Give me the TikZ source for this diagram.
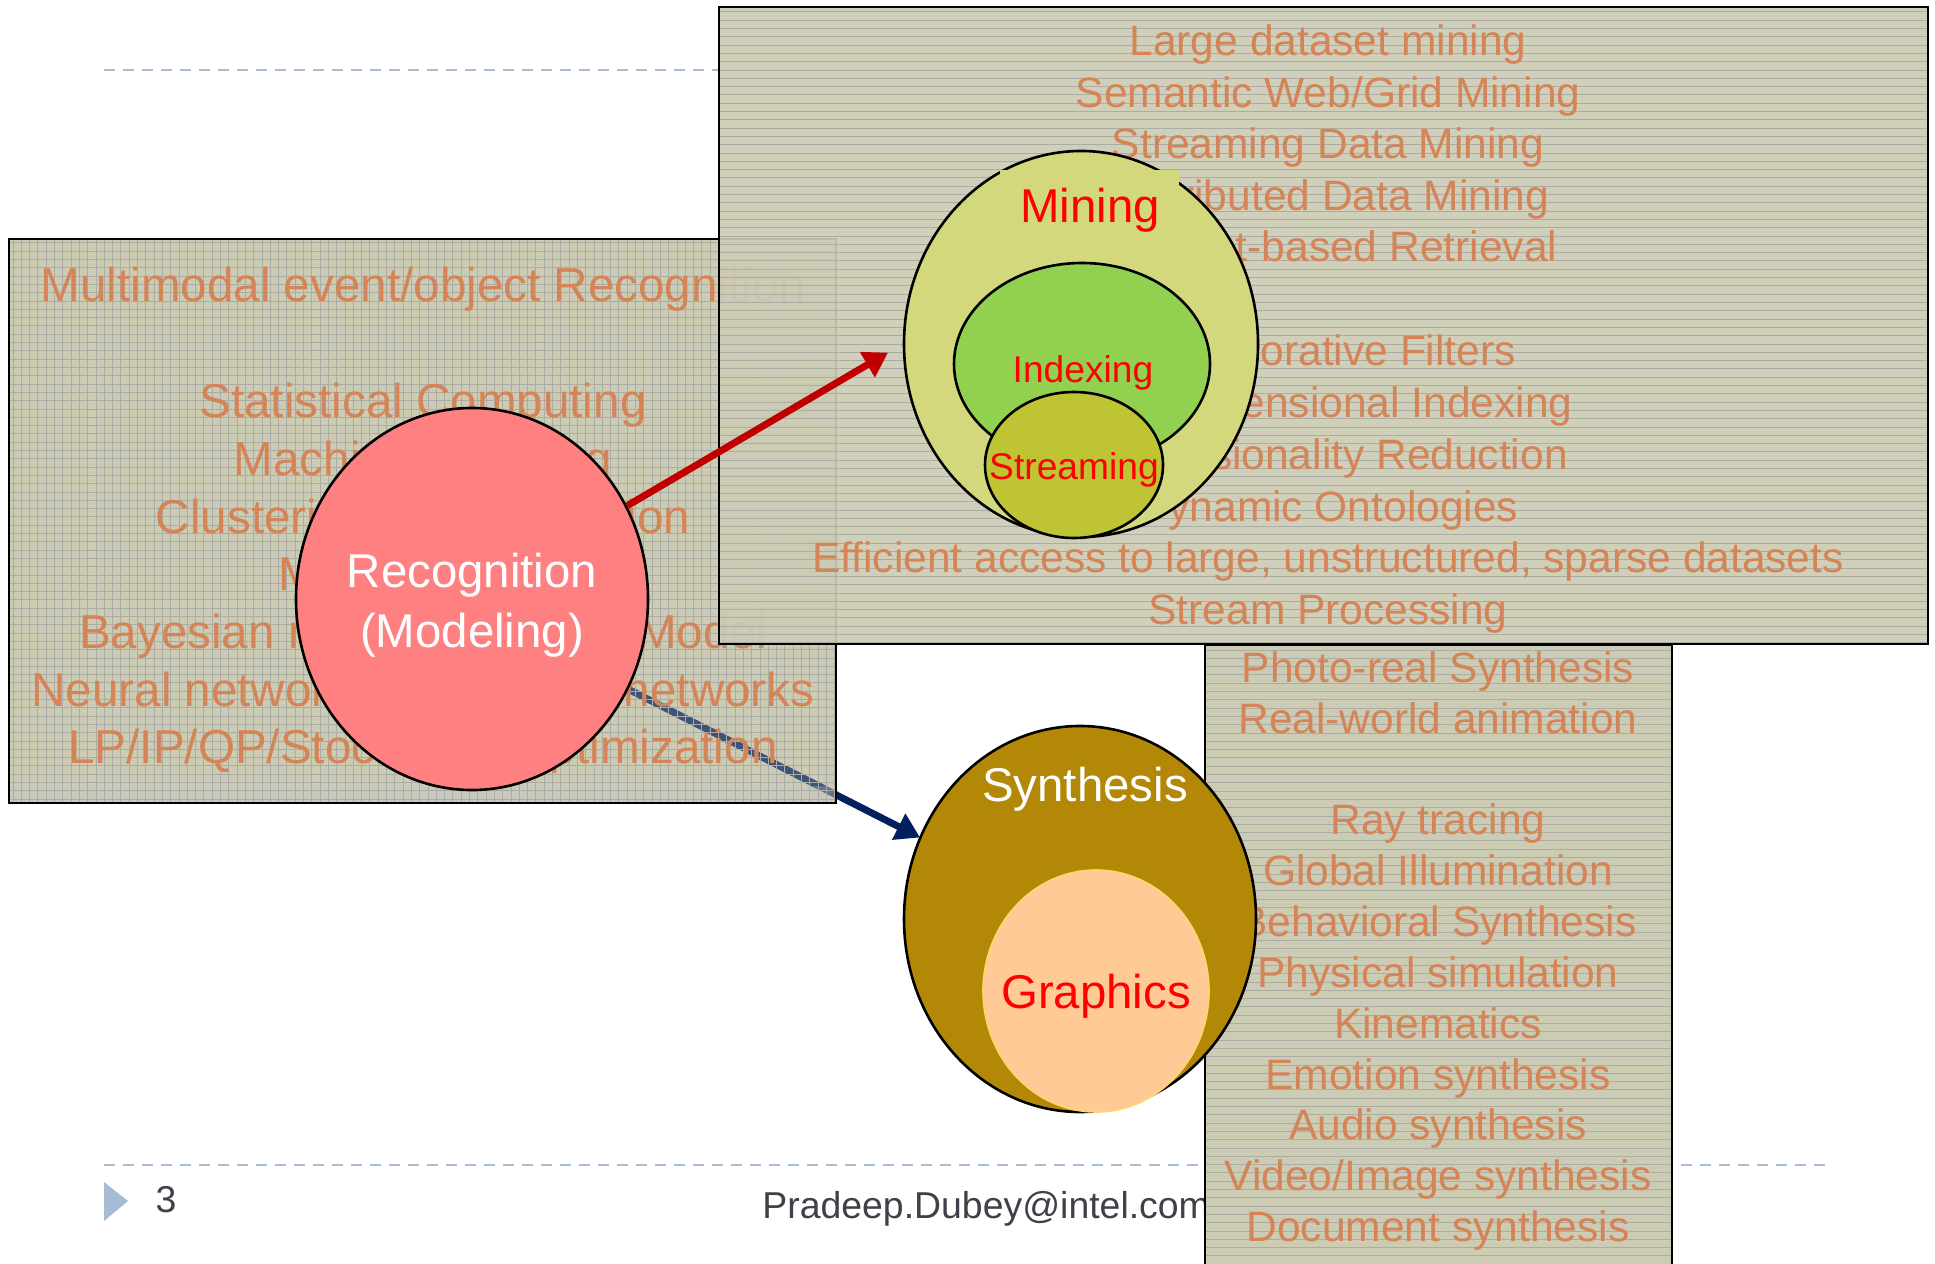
\documentclass[tikz,border=0pt]{standalone}
\usepackage{fontspec}
\setmainfont{Liberation Sans}
\usetikzlibrary{shapes.geometric,arrows.meta}

\definecolor{boxbg}{RGB}{204,203,180}
\definecolor{boxline}{RGB}{172,172,166}
\definecolor{stripbg}{RGB}{198,198,196}
\definecolor{itemtxt}{RGB}{212,132,86}
\definecolor{recfill}{RGB}{255,128,128}
\definecolor{minefill}{RGB}{212,216,124}
\definecolor{idxfill}{RGB}{146,208,80}
\definecolor{strfill}{RGB}{190,196,52}
\definecolor{synfill}{RGB}{179,136,6}
\definecolor{gfxfill}{RGB}{255,202,150}
\definecolor{gfxline}{RGB}{255,214,110}
\definecolor{arrowred}{RGB}{192,0,0}
\definecolor{arrownavy}{RGB}{0,32,96}
\definecolor{rulecol}{RGB}{165,188,212}
\definecolor{foottxt}{RGB}{64,64,72}

\tikzset{
  blob/.style={ellipse, draw=black, line width=1.3bp, inner sep=0pt},
  panel/.style={draw=black, line width=1.3bp},
  listtext/.style={anchor=base, inner sep=0pt, text=itemtxt,
    font=\fontsize{21.25bp}{24bp}\selectfont},
  listbig/.style={listtext, font=\fontsize{23.8bp}{27bp}\selectfont},
  tagbig/.style={anchor=base, inner sep=0pt, font=\fontsize{23.7bp}{27bp}\selectfont},
  tagsmall/.style={anchor=base, inner sep=0pt, font=\fontsize{18.6bp}{22bp}\selectfont},
  connector/.style={line width=3.5bp, -{Triangle[length=12bp,width=14bp]}},
  rule/.style={rulecol, line width=1.4bp, dash pattern=on 5.5bp off 4bp},
  texture/.style={boxline, line width=0.5bp}
}

\begin{document}
\begin{tikzpicture}[x=0.5bp,y=-0.5bp]
\useasboundingbox (0,0) rectangle (1935,1264);
\fill[white] (0,0) rectangle (1935,1264);

% slide rules and footer marker
\draw[rule] (104,70) -- (1833,70);
\draw[rule] (104,1165) -- (1833,1165);
\fill[rulecol] (104,1182) -- (128,1201) -- (104,1221) -- cycle;
\node[anchor=base, inner sep=0pt, text=foottxt, font=\fontsize{18.7bp}{22bp}\selectfont] (pg) at (166,1212) {3};
\node[anchor=base west, inner sep=0pt, text=foottxt, font=\fontsize{18.7bp}{22bp}\selectfont] (mail) at (762,1218) {Pradeep.Dubey@intel.com};

% recognition panel
\fill[boxbg] (9,239) rectangle (836,803);
\node[ellipse, inner sep=0pt, minimum width=176bp, minimum height=191bp] (rec) at (472,599) {};
\node[ellipse, inner sep=0pt, minimum width=176bp, minimum height=193bp] (syn) at (1080,919) {};
\draw[connector, arrownavy] (rec.-30) -- (syn.153);
\fill[boxbg, fill opacity=0.3] (9,239) rectangle (836,786);
\fill[stripbg, fill opacity=0.5] (9,786) rectangle (836,803);
\begin{scope}
  \clip (9,239) rectangle (836,803);
  \foreach \k in {0,...,99} \draw[texture] ({13+8.3*\k},239) -- ({13+8.3*\k},803);
  \foreach \k in {0,...,67} \draw[texture] (9,{243+8.3*\k}) -- (836,{243+8.3*\k});
\end{scope}
\node[listbig] (r1) at (423,302) {Multimodal event/object Recognition};
\node[listbig] (r2) at (423,417) {Statistical Computing};
\node[listbig] (r3) at (423,475) {Machine Learning};
\node[listbig] (r4) at (423,533) {Clustering / Classification};
\node[listbig] (r5) at (423,590) {Model-based:};
\node[listbig] (r6) at (423,648) {Bayesian network/Markov Model};
\node[listbig] (r7) at (423,706) {Neural networks/Probability networks};
\node[listbig] (r8) at (423,763) {LP/IP/QP/Stochastic Optimization};
\draw[panel] (9,239) rectangle (836,803);

% mining panel
\fill[boxbg, fill opacity=0.92] (719,7) rectangle (1928,644);
\begin{scope}
  \clip (719,7) rectangle (1928,644);
  \foreach \k in {0,...,76} \draw[texture] (719,{12+8.3*\k}) -- (1928,{12+8.3*\k});
\end{scope}
\node[listtext] (m1) at (1328,56) {Large dataset mining};
\node[listtext] (m2) at (1328,108) {Semantic Web/Grid Mining};
\node[listtext] (m3) at (1328,159) {Streaming Data Mining};
\node[listtext] (m4) at (1328,211) {Distributed Data Mining};
\node[listtext] (m5) at (1328,262) {Content-based Retrieval};
\node[listtext] (m6) at (1328,366) {Collaborative Filters};
\node[listtext] (m7) at (1328,417) {Multidimensional Indexing};
\node[listtext] (m8) at (1328,469) {Dimensionality Reduction};
\node[listtext] (m9) at (1328,521) {Dynamic Ontologies};
\node[listtext] (m10) at (1328,572) {Efficient access to large, unstructured, sparse datasets};
\node[listtext] (m11) at (1328,624) {Stream Processing};
\draw[panel] (719,7) rectangle (1928,644);

% synthesis panel
\fill[boxbg] (1205,645) rectangle (1672,1280);
\begin{scope}
  \clip (1205,645) rectangle (1672,1280);
  \foreach \k in {0,...,76} \draw[texture] (1205,{650+8.3*\k}) -- (1672,{650+8.3*\k});
\end{scope}
\node[listtext] (s1) at (1438,682) {Photo-real Synthesis};
\node[listtext] (s2) at (1438,733) {Real-world animation};
\node[listtext] (s3) at (1438,834) {Ray tracing};
\node[listtext] (s4) at (1438,885) {Global Illumination};
\node[listtext] (s5) at (1438,936) {Behavioral Synthesis};
\node[listtext] (s6) at (1438,987) {Physical simulation};
\node[listtext] (s7) at (1438,1038) {Kinematics};
\node[listtext] (s8) at (1438,1089) {Emotion synthesis};
\node[listtext] (s9) at (1438,1139) {Audio synthesis};
\node[listtext] (s10) at (1438,1190) {Video/Image synthesis};
\node[listtext] (s11) at (1438,1241) {Document synthesis};
\draw[panel] (1205,645) rectangle (1672,1280);

% recognition
\node[blob, fill=recfill, minimum width=176bp, minimum height=191bp] (recb) at (472,599) {};
\node[tagbig, text=white] (rect1) at (472,587) {Recognition};
\node[tagbig, text=white] (rect2) at (472,647) {(Modeling)};

% mining with nested indexing and streaming
\node[blob, fill=minefill, minimum width=177bp, minimum height=193bp] (mine) at (1081,344) {};
\fill[minefill] (1000,170) rectangle (1179,250);
\node[blob, fill=idxfill, minimum width=128bp, minimum height=101bp] (idx) at (1082,364) {};
\node[blob, fill=strfill, minimum width=89bp, minimum height=73bp] (strm) at (1074,465) {};
\node[tagbig, text=red] (minet) at (1090,223) {Mining};
\node[tagsmall, text=red] (idxt) at (1083,383) {Indexing};
\node[tagsmall, text=red] (strmt) at (1074,479) {Streaming};

\draw[connector, arrowred, shorten >=8.5bp] (recb.31) -- (mine.180);

% synthesis with graphics
\node[blob, fill=synfill, minimum width=176bp, minimum height=193bp] (synb) at (1080,919) {};
\node[blob, fill=gfxfill, draw=gfxline, line width=0.8bp, minimum width=113bp, minimum height=121bp] (gfx) at (1096,991) {};
\node[tagbig, text=white] (synt) at (1085,801) {Synthesis};
\node[tagbig, text=red] (gfxt) at (1096,1008) {Graphics};
\end{tikzpicture}
\end{document}
